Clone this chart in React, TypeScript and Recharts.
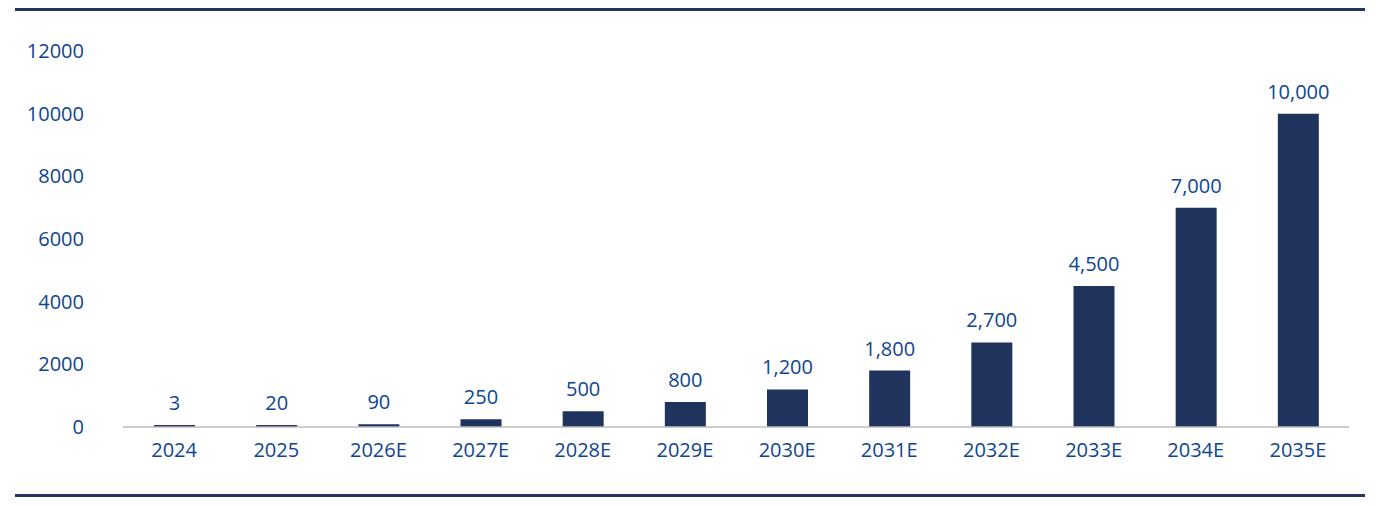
import React from "react";
import { BarChart, Bar, XAxis, YAxis, LabelList } from "recharts";

const categories = ["2024", "2025", "2026E", "2027E", "2028E", "2029E", "2030E", "2031E", "2032E", "2033E", "2034E", "2035E"];
const values = [3, 20, 90, 250, 500, 800, 1200, 1800, 2700, 4500, 7000, 10000];
const yTicks = [0, 2000, 4000, 6000, 8000, 10000, 12000];

const data = categories.map((c, i) => ({ name: c, value: values[i] }));

const TEXT = "#0E4590";
const BAR = "#1F335C";
const RULE = "#26365F";
const FONT = "'Open Sans', sans-serif";

export default function App() {
  return (
    <div style={{ position: "absolute", left: 0, top: 0, width: 1377, height: 506, background: "#fff" }}>
      <div style={{ position: "absolute", left: 15, top: 8, width: 1350, height: 3, background: RULE }} />
      <div style={{ position: "absolute", left: 15, top: 494, width: 1350, height: 3, background: RULE }} />
      <BarChart
        width={1377}
        height={506}
        data={data}
        margin={{ top: 51, right: 28, bottom: 49, left: 0 }}
        barCategoryGap={0}
      >
        <YAxis
          width={123}
          domain={[0, 12000]}
          ticks={yTicks}
          interval={0}
          axisLine={false}
          tickLine={false}
          tickSize={0}
          tickMargin={39}
          tick={{ fill: TEXT, fontSize: 20, fontFamily: FONT }}
        />
        <XAxis
          dataKey="name"
          height={30}
          interval={0}
          axisLine={{ stroke: "#BDBDBD", strokeWidth: 1.5 }}
          tickLine={false}
          tickSize={0}
          tickMargin={16}
          tick={{ fill: TEXT, fontSize: 20, fontFamily: FONT }}
        />
        <Bar dataKey="value" fill={BAR} barSize={41} minPointSize={2} isAnimationActive={false}>
          <LabelList
            dataKey="value"
            position="top"
            offset={15}
            formatter={(v: number) => v.toLocaleString("en-US")}
            style={{ fill: TEXT, fontSize: 20, fontFamily: FONT }}
          />
        </Bar>
      </BarChart>
    </div>
  );
}
